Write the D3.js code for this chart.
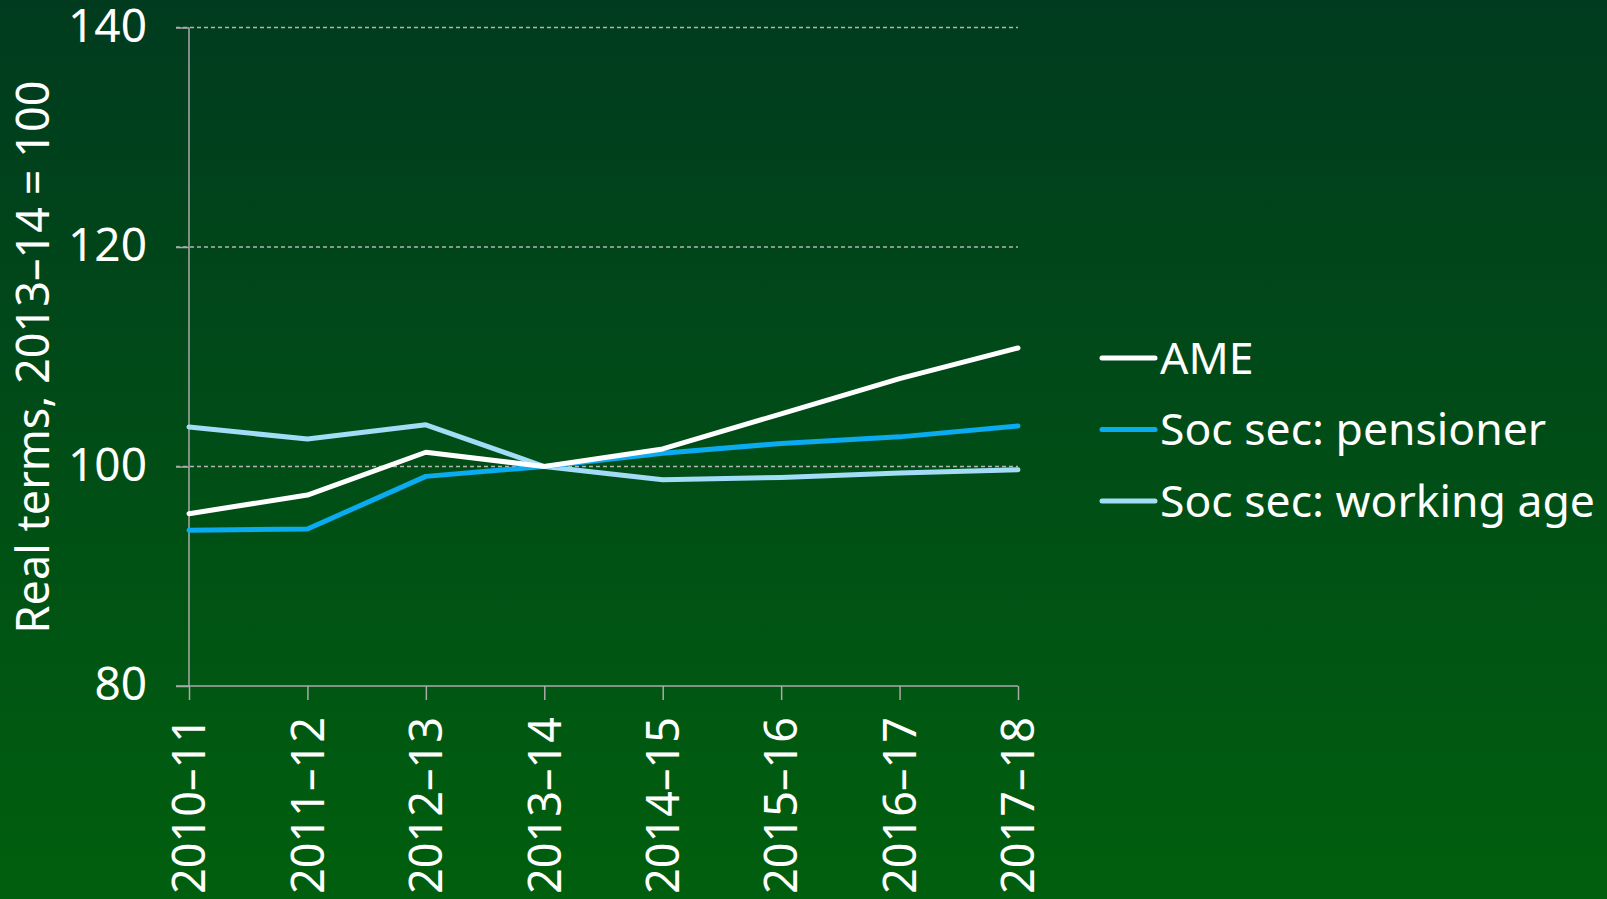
<!DOCTYPE html>
<html>
<head lang="en">
  <title>AME vs social security</title>
  <script src="https://d3js.org/d3.v7.min.js" charset="utf-8"></script>
  <style>
    body { margin: 0; overflow: hidden; }
  </style>
</head>
<body>
  <script>
    var years = ["2010\u201311", "2011\u201312", "2012\u201313", "2013\u201314",
                 "2014\u201315", "2015\u201316", "2016\u201317", "2017\u201318"];
    var ame = [95.7, 97.4, 101.3, 100, 101.6, 104.8, 108.0, 110.8];
    var pensioner = [94.2, 94.3, 99.1, 100, 101.2, 102.1, 102.7, 103.7];
    var workingAge = [103.6, 102.5, 103.8, 100, 98.8, 99.0, 99.4, 99.7];
    var seriesNames = ["AME", "Soc sec: pensioner", "Soc sec: working age"];
    var yTicks = [80, 100, 120, 140];

    var width = 1607;
    var height = 899;
    var font = "'Noto Sans', sans-serif";

    var svg = d3.select("body")
      .append("svg")
      .attr("width", width)
      .attr("height", height);

    // background gradient
    var grad = svg.append("defs").append("linearGradient")
      .attr("id", "bg")
      .attr("x1", 0).attr("y1", 0).attr("x2", 0).attr("y2", 1);
    grad.append("stop").attr("offset", "0%").attr("stop-color", "#003b1f");
    grad.append("stop").attr("offset", "100%").attr("stop-color", "#005f0e");
    svg.append("rect")
      .attr("width", width)
      .attr("height", height)
      .attr("fill", "url(#bg)");

    var x = d3.scalePoint()
      .domain(years)
      .range([189, 1018]);

    var y = d3.scaleLinear()
      .domain([80, 140])
      .range([686, 27.5]);

    // gridlines
    svg.append("g")
      .selectAll("line")
      .data(yTicks.slice(1))
      .enter().append("line")
        .attr("x1", 176)
        .attr("x2", 1018)
        .attr("y1", function(d) { return y(d); })
        .attr("y2", function(d) { return y(d); })
        .style("stroke", "#b4b4b4")
        .style("stroke-width", 1.3)
        .style("stroke-dasharray", "4,3");

    // y axis
    var yAxis = svg.append("g")
      .attr("transform", "translate(189,0)")
      .call(d3.axisLeft(y).tickValues(yTicks).tickSize(13).tickPadding(29));
    yAxis.select(".domain").remove();
    yAxis.append("line")
      .attr("x1", 0).attr("x2", 0)
      .attr("y1", y(140)).attr("y2", y(80))
      .style("stroke", "#aaaaaa")
      .style("stroke-width", 1.5);
    yAxis.selectAll(".tick line").style("stroke", "#aaaaaa").style("stroke-width", 1.5);
    yAxis.selectAll(".tick text")
      .attr("dy", "0.3em")
      .style("fill", "#ffffff")
      .style("font-family", font)
      .style("font-size", "46px");

    // x axis
    var xAxis = svg.append("g")
      .attr("transform", "translate(0," + y(80) + ")")
      .call(d3.axisBottom(x).tickSize(14).tickSizeOuter(0));
    xAxis.select(".domain").remove();
    xAxis.append("line")
      .attr("x1", 176).attr("x2", 1018)
      .style("stroke", "#aaaaaa")
      .style("stroke-width", 1.5);
    xAxis.selectAll(".tick line").style("stroke", "#aaaaaa").style("stroke-width", 1.5);
    xAxis.selectAll(".tick text")
      .attr("transform", "rotate(-90)")
      .attr("x", -31)
      .attr("y", 0)
      .attr("dy", "0.35em")
      .style("text-anchor", "end")
      .style("fill", "#ffffff")
      .style("font-family", font)
      .style("font-size", "45px");

    // y axis title
    svg.append("text")
      .attr("transform", "translate(49,357) rotate(-90)")
      .style("text-anchor", "middle")
      .style("fill", "#ffffff")
      .style("font-family", font)
      .style("font-size", "45px")
      .text("Real terms, 2013\u201314 = 100");

    // lines
    var allSeries = [ame, pensioner, workingAge];
    var colors = ["#ffffff", "#0aabf0", "#a3dcf7"];

    var line = d3.line()
      .x(function(d, i) { return x(years[i]); })
      .y(function(d) { return y(d); });

    svg.append("g")
      .selectAll("path")
      .data([2, 1, 0])
      .enter().append("path")
        .attr("d", function(k) { return line(allSeries[k]); })
        .style("fill", "none")
        .style("stroke", function(k) { return colors[k]; })
        .style("stroke-width", 5)
        .style("stroke-linejoin", "round")
        .style("stroke-linecap", "round");

    // legend
    var legend = svg.append("g")
      .selectAll("g")
      .data(seriesNames)
      .enter().append("g")
        .attr("transform", function(d, i) { return "translate(1102," + (358 + i * 71.5) + ")"; });
    legend.append("line")
      .attr("x1", 0).attr("x2", 53)
      .style("stroke", function(d, i) { return colors[i]; })
      .style("stroke-width", 5)
      .style("stroke-linecap", "round");
    legend.append("text")
      .attr("x", 58)
      .attr("dy", "0.35em")
      .style("fill", "#ffffff")
      .style("font-family", font)
      .style("font-size", "44.5px")
      .text(function(d) { return d; });
  </script>
</body>
</html>
